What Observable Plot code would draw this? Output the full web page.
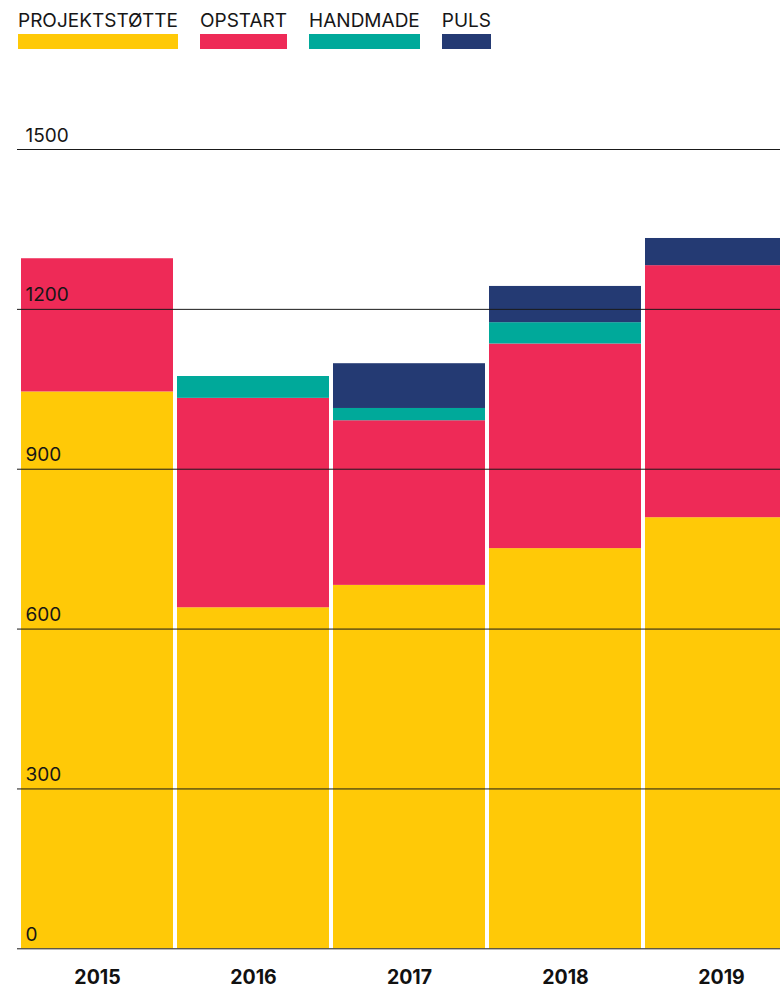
<!DOCTYPE html>
<html>
<head>
<meta charset="utf-8">
<script src="https://cdn.jsdelivr.net/npm/d3@7"></script>
<script src="https://cdn.jsdelivr.net/npm/@observablehq/plot@0.6"></script>
<style>
  html, body { margin: 0; padding: 0; background: #fff; overflow: hidden; width: 780px; height: 990px; }
  #wrap { position: relative; width: 780px; height: 990px; overflow: hidden; }
  #legend { position: absolute; left: 18px; top: 10px; display: flex; gap: 22px; font-family: Inter, "Noto Sans", sans-serif; font-size: 19px; color: #161616; z-index: 2; }
  .item { display: flex; flex-direction: column; }
  .item span { line-height: 21px; white-space: nowrap; letter-spacing: 0px; }
  .item i { display: block; height: 15px; margin-top: 3px; }
  #chart { position: absolute; left: 0; top: 0; width: 799px; }
  #chart svg { max-width: none !important; width: 799px; height: 990px; overflow: visible; }
</style>
</head>
<body>
<div id="wrap">
  <div id="legend"></div>
  <div id="chart"></div>
</div>
<script>
const years = ["2015", "2016", "2017", "2018", "2019"];
const series = ["PROJEKTSTØTTE", "OPSTART", "HANDMADE", "PULS"];
const colors = ["#FFC907", "#EE2A57", "#00A99A", "#243A73"];
const projektstotte = [1045, 640, 682, 751, 809];
const opstart = [250, 393, 309, 384, 473];
const handmade = [0, 41, 23, 40, 0];
const puls = [0, 0, 84, 68, 51];
const yTicks = [0, 300, 600, 900, 1200, 1500];

const values = [projektstotte, opstart, handmade, puls];
const data = [];
years.forEach((yr, i) => {
  series.forEach((s, j) => {
    data.push({year: yr, series: s, value: values[j][i]});
  });
});

// legend
const legend = document.getElementById("legend");
series.forEach((s, j) => {
  const it = document.createElement("div");
  it.className = "item";
  const t = document.createElement("span");
  t.textContent = s;
  const sw = document.createElement("i");
  sw.style.background = colors[j];
  it.appendChild(t);
  it.appendChild(sw);
  legend.appendChild(it);
});

const chart = Plot.plot({
  width: 799,
  height: 990,
  marginLeft: 19,
  marginRight: 0,
  marginTop: 149,
  marginBottom: 41.7,
  style: {fontFamily: "Inter, 'Noto Sans', sans-serif", background: "transparent", color: "#161616", maxWidth: "none", overflow: "visible"},
  x: {domain: years, paddingInner: 0.0236, paddingOuter: 0, axis: null},
  y: {domain: [0, 1500], axis: null},
  color: {domain: series, range: colors},
  marks: [
    Plot.barY(data, {x: "year", y: "value", fill: "series", order: series}),
    Plot.ruleY(yTicks, {stroke: "#1a1a1a", strokeWidth: 1, insetLeft: -2}),
    Plot.text(yTicks, {y: d => d, text: d => String(d), frameAnchor: "left", textAnchor: "start", lineAnchor: "bottom", dx: 6, dy: -8, fontSize: 19, fill: "#161616"}),
    Plot.axisX({domain: years, tickSize: 0, tickPadding: 21, fontSize: 19.5, fontWeight: "bold", fill: "#111", label: null})
  ]
});
document.getElementById("chart").appendChild(chart);
</script>
</body>
</html>
